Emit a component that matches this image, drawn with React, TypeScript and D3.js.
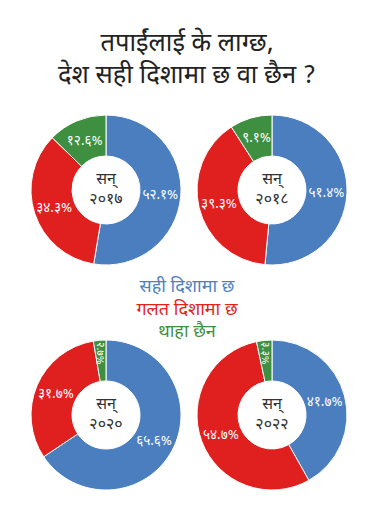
import React from "react";
import * as d3 from "d3";

// survey: does the country go in the right direction?
const years = ["२०१७", "२०१८", "२०२०", "२०२२"];
const categories = ["सही दिशामा छ", "गलत दिशामा छ", "थाहा छैन"];
const rightDirection = [52.1, 51.4, 65.6, 41.7];
const wrongDirection = [34.3, 39.3, 31.7, 54.7];
const dontKnow = [12.6, 9.1, 2.7, 3.3];

const titleLines = ["तपाईंलाई के लाग्छ,", "देश सही दिशामा छ वा छैन ?"];

const colors = ["#4a7ebf", "#e0201f", "#3e8f3f"];
const textColors = ["#4f7fbd", "#e2231a", "#3f8f3f"];

const width = 370;
const height = 523;
const font = "'Noto Sans Devanagari', 'Noto Sans', 'Lohit Devanagari', sans-serif";

const devDigits = "०१२३४५६७८९";
const toDev = (s: string) => s.replace(/[0-9]/g, (c) => devDigits[+c]);

const colX = [106, 272];
const rowY = [190, 415];
const outerR = 75;
const innerR = 34;

const pie = d3
  .pie<number>()
  .sort(null)
  .value((d) => d);

const arc = d3.arc<d3.PieArcDatum<number>>().innerRadius(innerR).outerRadius(outerR);

function Donut({ i }: { i: number }) {
  const values = [rightDirection[i], wrongDirection[i], dontKnow[i]];
  const slices = pie(values);
  const cx = colX[i % 2];
  const cy = rowY[Math.floor(i / 2)];

  return (
    <g transform={`translate(${cx},${cy})`}>
      {slices.map((s, j) => (
        <path key={j} d={arc(s) || ""} fill={colors[j]} stroke="#fff" strokeWidth={1} />
      ))}
      {slices.map((s, j) => {
        const small = s.data < 5;
        let [x, y] = arc.centroid(s);
        if (small) {
          const a = (s.startAngle + s.endAngle) / 2;
          x = Math.sin(a) * 62;
          y = -Math.cos(a) * 62;
        }
        return (
          <text
            key={j}
            transform={`translate(${x},${y})${small ? " rotate(90)" : ""}`}
            textAnchor="middle"
            dy="0.35em"
            fill="#fff"
            fontSize={small ? 10.5 : 13.5}
            fontFamily={font}
          >
            {toDev(s.data.toFixed(1))}%
          </text>
        );
      })}
      <text textAnchor="middle" y={-6} fontSize={16} fill="#333" fontFamily={font}>
        सन्
      </text>
      <text textAnchor="middle" y={14} fontSize={16} fill="#333" fontFamily={font}>
        {years[i]}
      </text>
    </g>
  );
}

export default function App() {
  return (
    <svg
      width={width}
      height={height}
      style={{ position: "absolute", left: 0, top: 0, background: "#fff" }}
    >
      {titleLines.map((t, k) => (
        <text
          key={k}
          x={187}
          y={51 + k * 32}
          textAnchor="middle"
          fontSize={25.5}
          fill="#222"
          fontFamily={font}
        >
          {t}
        </text>
      ))}
      {years.map((_, i) => (
        <Donut key={i} i={i} />
      ))}
      {categories.map((c, k) => (
        <text
          key={k}
          x={187}
          y={292 + k * 22.5}
          textAnchor="middle"
          fontSize={18}
          fill={textColors[k]}
          fontFamily={font}
        >
          {c}
        </text>
      ))}
    </svg>
  );
}
